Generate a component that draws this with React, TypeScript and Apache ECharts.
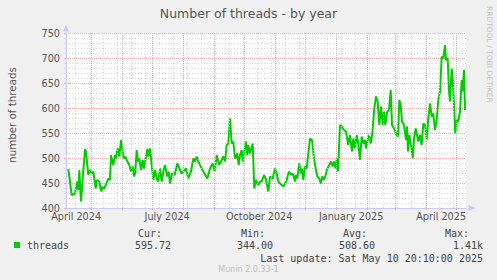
import React, { useEffect, useRef } from "react";
import * as echarts from "echarts";

const DAY = 86400000;
const START = Date.UTC(2024, 3, 5, 20, 10);
const END = START + 400 * DAY;

const dayOffsets = [
  2.3, 5.7, 9, 11.3, 12.3, 13.3, 15, 16.7, 19, 20, 22.3, 24, 25.7, 27.3, 29.7, 30.7, 33.3, 35.3, 36.7, 38,
  40, 42.3, 44, 45, 46.3, 47.3, 49, 50, 51.7, 53.3, 55, 56.3, 58, 59.3, 60.7, 63.3, 65, 66.7, 68.3, 69.3,
  70.7, 72, 73.3, 75, 76.7, 78, 80, 81.3, 82.3, 84, 85.7, 87.3, 89, 90.7, 92.3, 94, 95.7, 97.3, 99, 101.3,
  102.7, 104, 106, 108.7, 111.3, 112.7, 114, 115.7, 117.3, 120, 122.3, 125, 127.3, 129, 130.7, 132.3, 134, 137.3, 141.3, 144,
  146.7, 148.7, 150.7, 153, 155.7, 157.3, 159, 160.7, 162.3, 164, 165.7, 167.3, 169, 171.3, 172.7, 174, 175.7, 176.7, 178, 180,
  181.3, 182.3, 184, 186.7, 188.3, 190, 191.3, 192.3, 194, 195.7, 198, 199.7, 202.3, 204,
  206.7, 209, 210.7, 212.3, 214, 215.7, 217.3, 219, 220.7, 222.3, 223.3, 224.7, 226, 227.3, 229, 230, 231.3, 233.3, 234.7, 236,
  237.3, 239, 240.7, 242.3, 244, 246, 248, 249.7, 251.3, 253.3, 254.7, 256.3, 258, 259.7, 261.3, 263.3, 265, 266.7, 268, 269.7,
  270.7, 272, 274, 275.7, 278, 280, 282.3, 284, 286, 287.3, 289, 290.7, 292.3, 294, 295.7, 297.3, 299, 300, 301.3, 303,
  304.7, 306.3, 308.3, 310, 311.7, 313.3, 315, 316.7, 318, 319.3, 321.3, 323, 324.7, 326, 328, 330.7, 332, 333.3, 334.7, 336,
  338, 340, 341, 342, 343.3, 345, 346.7, 348, 349.7, 351, 352.3, 354, 355.7, 357.3, 359, 360.7, 362.3, 364, 365.7, 367.3,
  369, 370.7, 372.3, 374, 375.7, 377.3, 379, 380, 381.7, 383, 384, 385.7, 386.7, 388, 389.3, 390.7, 392.3, 394, 395.7, 396.7,
  398, 399,
];

const threadValues = [
  478, 426, 429, 453, 436, 476, 413, 459, 518, 513, 466, 476, 469, 473, 439, 456, 453, 433, 443, 439,
  447, 459, 456, 506, 493, 486, 506, 499, 519, 503, 536, 516, 499, 503, 496, 486, 473, 483, 463, 473,
  516, 493, 499, 476, 496, 479, 503, 518, 503, 519, 486, 456, 476, 459, 453, 479, 453, 473, 486, 463,
  473, 449, 469, 466, 489, 483, 476, 469, 473, 479, 459, 473, 499, 493, 503, 493, 486, 473, 459, 479,
  489, 473, 506, 486, 496, 503, 493, 526, 529, 579, 529, 533, 499, 509, 486, 506, 516, 493, 509, 533,
  506, 526, 509, 529, 439, 456, 449, 446, 453, 453, 466, 459, 433, 463,
  459, 479, 469, 453, 449, 446, 443, 449, 456, 469, 473, 466, 469, 466, 453, 466, 459, 489, 469, 479,
  456, 483, 479, 509, 539, 536, 499, 479, 463, 459, 449, 463, 456, 466, 479, 486, 493, 483, 493, 479,
  499, 473, 566, 563, 556, 553, 526, 546, 513, 539, 519, 546, 529, 496, 543, 529, 536, 519, 533, 546,
  529, 549, 599, 623, 613, 566, 603, 566, 593, 566, 593, 596, 636, 566, 559, 546, 543, 616, 606, 573,
  566, 536, 563, 513, 546, 526, 499, 539, 559, 546, 533, 546, 526, 569, 566, 536, 579, 609, 583, 589,
  556, 576, 616, 633, 703, 699, 726, 696, 699, 633, 613, 679, 656, 606, 549, 576, 573, 593, 656, 633,
  676, 596,
];

const xLabelDays = [16, 16, 16, 16, 16];
const xLabelMonths = [[2024, 3], [2024, 6], [2024, 9], [2025, 0], [2025, 3]];
const xLabelTexts = ["April 2024", "July 2024", "October 2024", "January 2025", "April 2025"];

const statNames = ["Cur:", "Min:", "Avg:", "Max:"];
const statValues = ["595.72", "344.00", "508.60", "1.41k"];
const seriesName = "threads";
const lastUpdate = "Last update: Sat May 10 20:10:00 2025";

const GREEN = "#00cc00";
const RED_GRID = "#f4a8a8";
const GRAY_GRID = "#d8d8d8";
const MONO = "'DejaVu Sans Mono', monospace";
const SANS = "'DejaVu Sans', sans-serif";

export default function App() {
  const ref = useRef<HTMLDivElement>(null);
  useEffect(() => {
    if (!ref.current) return;
    const chart = echarts.init(ref.current, undefined, { renderer: "svg" });

    const data = dayOffsets.map((d, i) => [START + d * DAY, threadValues[i]]);
    const labelTimes = xLabelMonths.map((ym, i) => Date.UTC(ym[0], ym[1], xLabelDays[i]));

    const monthStarts: number[] = [];
    for (let i = 0; i < 13; i++) {
      const t = Date.UTC(2024, 4 + i, 1);
      if (t < END) monthStarts.push(t);
    }
    const biweekly: number[] = [];
    for (let t = Date.UTC(2024, 3, 15); t < END; t += 14 * DAY) biweekly.push(t);

    const statX = [171, 273, 375, 483];
    const statNameX = [162, 265, 367, 469];
    const graphic: any[] = [
      {
        type: "text", x: 248.5, y: 13,
        style: { text: "Number of threads - by year", font: `12.5px ${SANS}`, fill: "#555", align: "center", verticalAlign: "middle" },
      },
      {
        type: "text", x: 11.5, y: 115, rotation: Math.PI / 2,
        style: { text: "number of threads", font: `10.3px ${SANS}`, fill: "#555", align: "center", verticalAlign: "middle" },
      },
      {
        type: "text", x: 489, y: 6, rotation: -Math.PI / 2,
        style: { text: "RRDTOOL / TOBI OETIKER", font: `7.5px ${SANS}`, fill: "#c4c4c4", align: "left", verticalAlign: "middle" },
      },
      { type: "rect", shape: { x: 14, y: 242, width: 6, height: 6 }, style: { fill: GREEN } },
      {
        type: "text", x: 27, y: 245,
        style: { text: seriesName, font: `10px ${MONO}`, fill: "#444", align: "left", verticalAlign: "middle" },
      },
      {
        type: "text", x: 483, y: 258,
        style: { text: lastUpdate, font: `10px ${MONO}`, fill: "#444", align: "right", verticalAlign: "middle" },
      },
      {
        type: "text", x: 248.5, y: 269,
        style: { text: "Munin 2.0.33-1", font: `8px ${SANS}`, fill: "#c0c0c0", align: "center", verticalAlign: "middle" },
      },
    ];
    statNames.forEach((n, i) => {
      graphic.push({
        type: "text", x: statNameX[i], y: 233,
        style: { text: n, font: `10px ${MONO}`, fill: "#444", align: "right", verticalAlign: "middle" },
      });
      graphic.push({
        type: "text", x: statX[i], y: 245,
        style: { text: statValues[i], font: `10px ${MONO}`, fill: "#444", align: "right", verticalAlign: "middle" },
      });
    });

    chart.setOption({
      animation: false,
      backgroundColor: "#f0f0f0",
      grid: { left: 66, right: 31, top: 33, bottom: 72, show: true, backgroundColor: "#ffffff", borderWidth: 0 },
      xAxis: {
        type: "value", min: START, max: END,
        axisLine: {
          show: true, lineStyle: { color: "#c8c8ff", width: 1 },
          symbol: ["none", "triangle"], symbolSize: [6, 7], symbolOffset: [0, 6],
        },
        axisTick: { show: true, customValues: monthStarts, length: 2, lineStyle: { color: RED_GRID } },
        axisLabel: {
          customValues: labelTimes, margin: 3, fontSize: 9.7, color: "#555", fontFamily: SANS,
          formatter: (v: number) => {
            const idx = labelTimes.findIndex((t) => Math.abs(t - v) < DAY / 2);
            return idx >= 0 ? xLabelTexts[idx] : "";
          },
        },
        splitLine: { show: false },
      },
      yAxis: {
        type: "value", min: 400, max: 750, interval: 50,
        axisLine: {
          show: true, lineStyle: { color: "#c8c8ff", width: 1 },
          symbol: ["none", "triangle"], symbolSize: [6, 7], symbolOffset: [0, 5],
        },
        axisTick: { show: true, length: 2, lineStyle: { color: RED_GRID } },
        minorTick: { show: true, splitNumber: 5, length: 2, lineStyle: { color: GRAY_GRID } },
        axisLabel: { fontSize: 9.7, color: "#555", margin: 6, fontFamily: SANS },
        splitLine: { show: true, lineStyle: { color: RED_GRID, type: [1, 1], width: 1 } },
        minorSplitLine: { show: true, lineStyle: { color: GRAY_GRID, type: [1, 2], width: 1 } },
      },
      series: [
        {
          type: "line", data: [], z: 1, silent: true,
          markLine: {
            silent: true, symbol: ["none", "none"], animation: false, label: { show: false },
            data: [
              ...biweekly.map((t) => ({ xAxis: t, lineStyle: { color: GRAY_GRID, type: [1, 2], width: 1 } })),
              ...monthStarts.map((t) => ({ xAxis: t, lineStyle: { color: RED_GRID, type: [1, 1], width: 1 } })),
            ],
          },
        },
        {
          type: "line", name: seriesName, data, z: 3, showSymbol: false, symbol: "none",
          lineStyle: { color: GREEN, width: 2 }, itemStyle: { color: GREEN },
        },
      ],
      graphic,
    });
    return () => chart.dispose();
  }, []);
  return <div ref={ref} style={{ position: "fixed", left: 0, top: 0, width: 497, height: 280 }} />;
}
